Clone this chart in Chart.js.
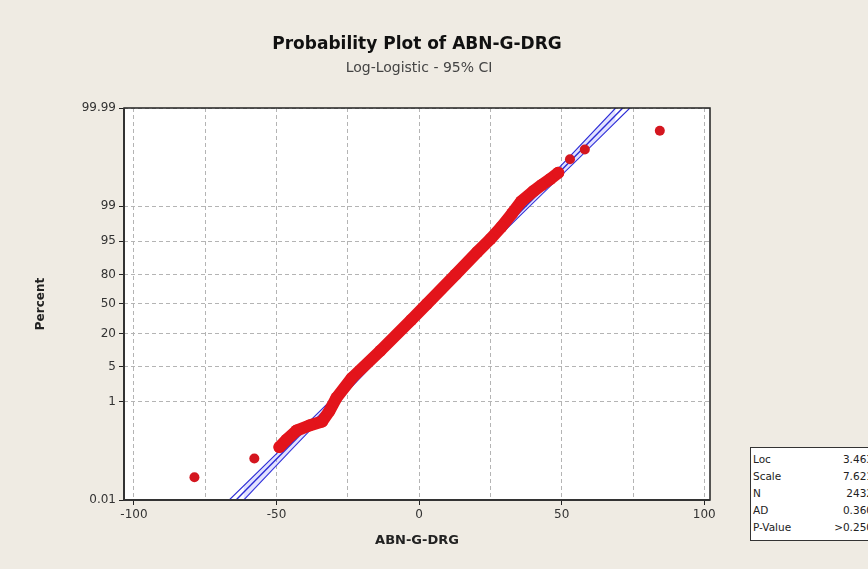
<!DOCTYPE html>
<html>
<head>
<meta charset="utf-8">
<script src="https://cdn.jsdelivr.net/npm/chart.js@4.4.1/dist/chart.umd.min.js"></script>
<style>
html, body { margin: 0; padding: 0; background: #efebe3; overflow: hidden; }
#wrap { position: relative; width: 868px; height: 569px; }
#myChart { position: absolute; left: 0; top: 0; }
#title { position: absolute; left: 0; width: 834px; top: 33px; text-align: center;
  font: bold 17px "DejaVu Sans", sans-serif; color: #111; }
#subtitle { position: absolute; left: 0; width: 838px; top: 59px; text-align: center;
  font: 14px "DejaVu Sans", sans-serif; color: #444; }
#stats { position: absolute; left: 750px; top: 447px; width: 126px; height: 94px;
  background: #fff; border: 1.5px solid #333; box-sizing: border-box; }
#stats table { border-collapse: collapse; margin: 3px 0 0 2px; width: 120px;
  font: 10.5px "DejaVu Sans", sans-serif; color: #222; }
#stats td { padding: 0; height: 17px; line-height: 17px; }
#stats td.v { text-align: right; }
</style>
</head>
<body>
<div id="wrap">
  <canvas id="myChart" width="868" height="569"></canvas>
  <div id="title">Probability Plot of ABN-G-DRG</div>
  <div id="subtitle">Log-Logistic - 95% CI</div>
  <div id="stats"><table id="statTable"></table></div>
</div>
<script>
// data (x = ABN-G-DRG, pct = percent)
var bandX   = [-49.0, -46.5, -43.0, -38.5, -34.0, -31.5, -29.0, -23.6, -13.6, -2.8, 2.7, 12.8, 20.4, 25.0, 28.8, 32.6, 35.8, 40.0, 43.0, 46.0, 48.8];
var bandPct = [0.12, 0.17, 0.26, 0.33, 0.40, 0.65, 1.2, 3.0, 10, 32, 50, 80, 92, 95.5, 97.4, 98.6, 99.2, 99.5, 99.63, 99.72, 99.79];

var dotX   = [-78.8, -57.8, 52.9, 58.1, 84.4];
var dotPct = [0.029, 0.070, 99.889, 99.930, 99.971];

var fitX   = [-64.2, 71.4];
var fitPct = [0.01, 99.99];

var ciPct  = [0.01, 0.1, 1, 10, 50, 90, 99, 99.9, 99.99];
var ciLowX = [-66.6, -49.0, -31.5, -13.2, 3.2, 19.1, 36.2, 52.6, 68.9];
var ciHighX = [-61.5, -45.2, -28.7, -11.6, 4.2, 20.5, 38.8, 56.4, 73.9];

var yTicks = [0.01, 1, 5, 20, 50, 80, 95, 99, 99.99];
var xGrid = [-100, -75, -50, -25, 0, 25, 50, 75, 100];
var xLabels = [-100, -50, 0, 50, 100];

var statLabels = ['Loc', 'Scale', 'N', 'AD', 'P-Value'];
var statValues = ['3.463', '7.621', '2432', '0.360', '>0.250'];

var table = document.getElementById('statTable');
statLabels.forEach(function (l, i) {
  var tr = document.createElement('tr');
  tr.innerHTML = '<td>' + l + '</td><td class="v">' + statValues[i] + '</td>';
  table.appendChild(tr);
});

function pts(xs, ps) {
  return xs.map(function (x, i) { return { x: x, y: ps[i] }; });
}

// probability (logistic) axis
function logit(p) { return Math.log(p / (100 - p)); }

class LogitScale extends Chart.Scale {
  determineDataLimits() {
    this.min = this.options.min;
    this.max = this.options.max;
  }
  buildTicks() {
    return yTicks.map(function (v) { return { value: v }; });
  }
  configure() {
    super.configure();
    this._lo = logit(this.min);
    this._hi = logit(this.max);
  }
  getLabelForValue(v) { return String(v); }
  getPixelForValue(v) {
    return this.getPixelForDecimal((logit(v) - this._lo) / (this._hi - this._lo));
  }
  getValueForPixel(px) {
    var l = this._lo + this.getDecimalForPixel(px) * (this._hi - this._lo);
    return 100 / (1 + Math.exp(-l));
  }
}
LogitScale.id = 'logit';
LogitScale.defaults = {};
Chart.register(LogitScale);

var red = '#e3141b';
var blue = '#2b2bd6';

// white plot area + dark frame
var framePlugin = {
  id: 'frame',
  beforeDraw: function (chart) {
    var a = chart.chartArea, c = chart.ctx;
    c.save();
    c.fillStyle = '#fff';
    c.fillRect(a.left, a.top, a.right - a.left, a.bottom - a.top);
    c.restore();
  },
  afterDatasetsDraw: function (chart) {
    var a = chart.chartArea, c = chart.ctx;
    c.save();
    c.strokeStyle = '#222';
    c.lineWidth = 1.5;
    c.strokeRect(a.left, a.top, a.right - a.left, a.bottom - a.top);
    c.lineWidth = 2;
    c.strokeStyle = '#333';
    c.beginPath();
    c.moveTo(a.left, a.top); c.lineTo(a.left, a.bottom); c.lineTo(a.right, a.bottom);
    c.stroke();
    c.restore();
  }
};

var ctx = document.getElementById('myChart').getContext('2d');

var myChart = new Chart(ctx, {
  type: 'scatter',
  data: {
    datasets: [{
      data: pts(bandX, bandPct),
      showLine: true,
      borderColor: red,
      borderWidth: 12,
      borderCapStyle: 'round',
      borderJoinStyle: 'round',
      pointRadius: 6,
      pointBorderWidth: 0,
      pointBackgroundColor: red
    }, {
      data: pts(dotX, dotPct),
      pointRadius: 5,
      pointBorderWidth: 0,
      pointBackgroundColor: '#d4161f'
    }, {
      data: pts(fitX, fitPct),
      showLine: true,
      borderColor: blue,
      borderWidth: 1.4,
      pointRadius: 0
    }, {
      data: pts(ciLowX, ciPct),
      showLine: true,
      borderColor: blue,
      borderWidth: 1.1,
      pointRadius: 0,
      fill: '+1',
      backgroundColor: 'rgba(140,140,255,0.25)'
    }, {
      data: pts(ciHighX, ciPct),
      showLine: true,
      borderColor: blue,
      borderWidth: 1.1,
      pointRadius: 0
    }]
  },
  options: {
    responsive: false,
    animation: false,
    layout: { padding: { left: 30, top: 108, right: 158, bottom: 17 } },
    plugins: { legend: { display: false }, tooltip: { enabled: false } },
    scales: {
      x: {
        type: 'linear',
        min: -103.5,
        max: 102,
        afterBuildTicks: function (s) { s.ticks = xGrid.map(function (v) { return { value: v }; }); },
        afterFit: function (s) { s.height = 52; },
        ticks: {
          padding: 3,
          color: '#333',
          font: { family: 'DejaVu Sans', size: 12 },
          maxRotation: 0,
          autoSkip: false,
          callback: function (v) { return xLabels.indexOf(v) >= 0 ? String(v) : ''; }
        },
        grid: {
          color: '#b4b4b4',
          tickLength: 5,
          tickColor: function (c) { return (c.tick && xLabels.indexOf(c.tick.value) >= 0) ? '#222' : 'rgba(0,0,0,0)'; }
        },
        border: { display: false, dash: [4, 3] },
        title: {
          display: true,
          text: 'ABN-G-DRG',
          color: '#222',
          font: { family: 'DejaVu Sans', size: 13, weight: 'bold' }
        }
      },
      y: {
        type: 'logit',
        min: 0.01,
        max: 99.99,
        afterFit: function (s) { s.width = 94; },
        ticks: {
          padding: 3,
          color: '#333',
          font: { family: 'DejaVu Sans', size: 12 },
          autoSkip: false
        },
        grid: { color: '#b4b4b4', tickLength: 5, tickColor: '#222' },
        border: { display: false, dash: [4, 3] },
        title: {
          display: true,
          text: 'Percent',
          color: '#222',
          font: { family: 'DejaVu Sans', size: 12, weight: 'bold' }
        }
      }
    }
  },
  plugins: [framePlugin]
});
</script>
</body>
</html>
